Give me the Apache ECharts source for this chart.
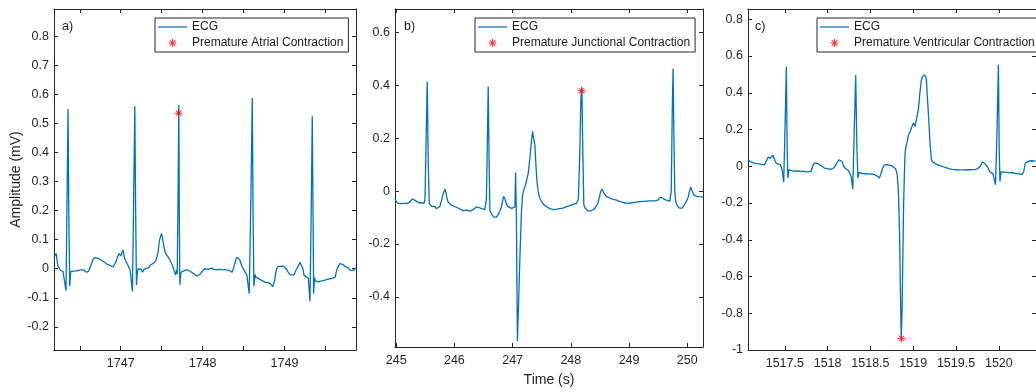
<!DOCTYPE html>
<html>
<head>
<meta charset="utf-8">
<script src="https://cdn.jsdelivr.net/npm/echarts@6/dist/echarts.min.js"></script>
<style>
  html, body { margin: 0; padding: 0; background: #ffffff; }
  #chart { width: 1036px; height: 392px; }
</style>
</head>
<body>
<div id="chart"></div>
<script>
// ECG excerpts (time in s, amplitude in mV) with the annotated premature beats.
const ecgA = [
  [1746.185,0.040],[1746.200,0.035],[1746.212,0.052],[1746.222,0.030],[1746.235,0.008],[1746.250,0.002],
  [1746.265,-0.006],[1746.280,-0.003],[1746.295,-0.010],[1746.310,-0.012],[1746.332,-0.076],[1746.345,0.250],
  [1746.356,0.550],[1746.366,0.200],[1746.377,-0.060],[1746.389,-0.010],[1746.405,-0.014],[1746.420,-0.008],
  [1746.438,-0.013],[1746.455,-0.007],[1746.470,-0.012],[1746.485,-0.006],[1746.499,-0.010],[1746.515,-0.004],
  [1746.530,-0.008],[1746.548,-0.004],[1746.565,-0.009],[1746.581,-0.012],[1746.597,-0.016],[1746.610,-0.008],
  [1746.625,0.005],[1746.640,0.015],[1746.658,0.030],[1746.680,0.038],[1746.703,0.041],[1746.725,0.036],
  [1746.744,0.038],[1746.760,0.030],[1746.775,0.028],[1746.793,0.024],[1746.815,0.022],[1746.830,0.016],
  [1746.848,0.018],[1746.865,0.012],[1746.885,0.010],[1746.906,0.006],[1746.925,0.012],[1746.939,0.022],
  [1746.960,0.040],[1746.980,0.052],[1747.000,0.044],[1747.015,0.055],[1747.029,0.064],[1747.040,0.045],
  [1747.055,0.030],[1747.074,0.020],[1747.095,0.008],[1747.115,-0.005],[1747.143,-0.078],[1747.158,0.250],
  [1747.172,0.560],[1747.182,0.200],[1747.192,-0.056],[1747.200,-0.020],[1747.212,0.000],[1747.233,-0.004],
  [1747.250,-0.002],[1747.266,-0.012],[1747.280,-0.004],[1747.297,-0.002],[1747.315,0.002],[1747.330,0.006],
  [1747.345,0.004],[1747.360,0.012],[1747.376,0.010],[1747.395,0.018],[1747.416,0.020],[1747.430,0.028],
  [1747.444,0.030],[1747.458,0.060],[1747.471,0.095],[1747.485,0.110],[1747.498,0.122],[1747.510,0.105],
  [1747.525,0.080],[1747.540,0.058],[1747.559,0.048],[1747.580,0.040],[1747.600,0.030],[1747.620,0.018],
  [1747.640,0.004],[1747.655,-0.010],[1747.670,-0.022],[1747.680,-0.004],[1747.690,-0.018],[1747.700,0.250],
  [1747.709,0.565],[1747.715,0.200],[1747.722,-0.055],[1747.735,-0.012],[1747.750,-0.015],[1747.765,-0.008],
  [1747.785,-0.012],[1747.800,-0.004],[1747.815,-0.010],[1747.830,-0.006],[1747.848,-0.003],[1747.865,-0.012],
  [1747.881,-0.008],[1747.898,-0.018],[1747.915,-0.012],[1747.930,-0.025],[1747.945,-0.030],[1747.965,-0.020],
  [1747.987,-0.012],[1748.005,-0.006],[1748.025,0.000],[1748.048,0.002],[1748.070,-0.002],[1748.090,0.004],
  [1748.110,0.002],[1748.135,-0.002],[1748.155,0.001],[1748.175,-0.004],[1748.200,-0.002],[1748.220,-0.006],
  [1748.240,-0.003],[1748.260,-0.007],[1748.280,-0.004],[1748.300,-0.008],[1748.325,-0.006],[1748.345,-0.010],
  [1748.360,-0.012],[1748.375,0.000],[1748.395,0.020],[1748.415,0.040],[1748.425,0.046],[1748.438,0.042],
  [1748.455,0.030],[1748.475,0.012],[1748.496,0.000],[1748.515,-0.010],[1748.540,-0.022],[1748.569,-0.086],
  [1748.590,0.250],[1748.606,0.588],[1748.616,0.200],[1748.626,-0.060],[1748.640,-0.020],[1748.651,-0.030],
  [1748.668,-0.026],[1748.685,-0.034],[1748.700,-0.030],[1748.720,-0.040],[1748.740,-0.038],[1748.760,-0.046],
  [1748.782,-0.044],[1748.805,-0.048],[1748.831,-0.052],[1748.855,-0.062],[1748.875,-0.045],[1748.890,-0.020],
  [1748.904,0.000],[1748.920,0.008],[1748.936,0.012],[1748.960,0.008],[1748.985,0.010],[1749.005,0.004],
  [1749.026,-0.002],[1749.045,-0.012],[1749.066,-0.020],[1749.090,-0.016],[1749.115,-0.022],[1749.135,-0.008],
  [1749.150,0.000],[1749.170,0.012],[1749.189,0.022],[1749.200,0.018],[1749.210,0.024],[1749.225,0.000],
  [1749.238,-0.022],[1749.265,-0.028],[1749.290,-0.032],[1749.311,-0.112],[1749.326,0.200],[1749.339,0.525],
  [1749.348,0.200],[1749.356,-0.086],[1749.366,-0.030],[1749.376,-0.042],[1749.395,-0.038],[1749.415,-0.045],
  [1749.435,-0.040],[1749.455,-0.042],[1749.475,-0.036],[1749.494,-0.039],[1749.515,-0.034],[1749.535,-0.036],
  [1749.555,-0.032],[1749.580,-0.033],[1749.600,-0.028],[1749.617,-0.030],[1749.632,-0.012],[1749.645,0.002],
  [1749.660,0.010],[1749.678,0.018],[1749.695,0.012],[1749.714,0.014],[1749.740,0.008],[1749.760,0.010],
  [1749.780,0.002],[1749.800,-0.005],[1749.820,-0.010],[1749.840,-0.006],[1749.855,-0.012],[1749.873,0.004]
];
const pacA = [[1747.706, 0.536]];

const ecgB = [
  [244.980,-0.027],[244.995,-0.038],[245.014,-0.042],[245.035,-0.046],[245.066,-0.044],[245.090,-0.047],
  [245.115,-0.043],[245.134,-0.046],[245.160,-0.044],[245.185,-0.046],[245.203,-0.045],[245.230,-0.042],
  [245.255,-0.038],[245.280,-0.030],[245.306,-0.030],[245.330,-0.036],[245.358,-0.038],[245.390,-0.044],
  [245.426,-0.044],[245.455,-0.045],[245.478,-0.046],[245.495,-0.030],[245.515,0.200],[245.534,0.414],
  [245.551,0.100],[245.569,-0.048],[245.590,-0.050],[245.615,-0.058],[245.637,-0.060],[245.665,-0.058],
  [245.690,-0.066],[245.723,-0.066],[245.750,-0.058],[245.781,-0.034],[245.810,-0.008],[245.838,0.008],
  [245.860,-0.012],[245.880,-0.034],[245.895,-0.042],[245.920,-0.046],[245.941,-0.052],[245.975,-0.054],
  [246.010,-0.059],[246.045,-0.062],[246.078,-0.066],[246.115,-0.070],[246.152,-0.074],[246.185,-0.070],
  [246.216,-0.072],[246.240,-0.075],[246.267,-0.076],[246.295,-0.072],[246.318,-0.070],[246.350,-0.064],
  [246.382,-0.060],[246.405,-0.062],[246.421,-0.062],[246.445,-0.064],[246.468,-0.066],[246.495,-0.068],
  [246.524,-0.070],[246.550,-0.030],[246.567,0.200],[246.581,0.395],[246.597,0.100],[246.610,-0.075],
  [246.644,-0.088],[246.670,-0.098],[246.696,-0.102],[246.725,-0.098],[246.753,-0.088],[246.780,-0.076],
  [246.805,-0.062],[246.825,-0.040],[246.845,-0.020],[246.856,-0.015],[246.870,-0.030],[246.897,-0.050],
  [246.920,-0.058],[246.950,-0.062],[246.983,-0.065],[247.010,-0.063],[247.040,-0.060],[247.051,0.070],
  [247.065,-0.100],[247.082,-0.567],[247.099,-0.450],[247.125,-0.252],[247.151,-0.080],[247.171,-0.015],
  [247.190,0.004],[247.211,0.016],[247.240,0.040],[247.268,0.066],[247.290,0.110],[247.315,0.170],
  [247.343,0.225],[247.362,0.220],[247.383,0.172],[247.400,0.100],[247.417,0.040],[247.439,-0.002],
  [247.465,-0.026],[247.498,-0.040],[247.540,-0.052],[247.583,-0.059],[247.615,-0.063],[247.640,-0.066],
  [247.670,-0.068],[247.697,-0.070],[247.730,-0.067],[247.760,-0.068],[247.790,-0.065],[247.812,-0.066],
  [247.840,-0.063],[247.863,-0.064],[247.895,-0.060],[247.927,-0.059],[247.955,-0.057],[247.983,-0.055],
  [248.010,-0.052],[248.035,-0.050],[248.065,-0.048],[248.098,-0.046],[248.129,-0.030],[248.155,0.150],
  [248.172,0.350],[248.189,0.391],[248.206,0.150],[248.223,-0.052],[248.250,-0.066],[248.275,-0.072],
  [248.300,-0.076],[248.326,-0.077],[248.350,-0.074],[248.378,-0.072],[248.410,-0.066],[248.441,-0.060],
  [248.465,-0.046],[248.489,-0.025],[248.515,0.000],[248.537,0.008],[248.555,-0.002],[248.575,-0.010],
  [248.613,-0.021],[248.650,-0.024],[248.687,-0.028],[248.735,-0.031],[248.784,-0.034],[248.820,-0.038],
  [248.858,-0.040],[248.905,-0.044],[248.956,-0.046],[249.010,-0.045],[249.064,-0.044],[249.120,-0.042],
  [249.184,-0.040],[249.245,-0.039],[249.304,-0.038],[249.360,-0.037],[249.413,-0.037],[249.460,-0.036],
  [249.498,-0.034],[249.520,-0.026],[249.540,-0.021],[249.560,-0.024],[249.579,-0.028],[249.600,-0.030],
  [249.614,-0.033],[249.640,-0.034],[249.665,-0.037],[249.700,-0.038],[249.725,0.000],[249.742,0.300],
  [249.756,0.463],[249.771,0.200],[249.785,0.000],[249.800,-0.035],[249.820,-0.052],[249.842,-0.059],
  [249.865,-0.064],[249.888,-0.065],[249.910,-0.064],[249.928,-0.060],[249.950,-0.052],[249.974,-0.045],
  [249.995,-0.034],[250.013,-0.025],[250.035,-0.004],[250.059,0.016],[250.085,0.000],[250.111,-0.015],
  [250.140,-0.019],[250.162,-0.020],[250.190,-0.022],[250.214,-0.021],[250.240,-0.022],[250.270,-0.022]
];
const pjcB = [[248.184, 0.379]];

const ecgC = [
  [1517.070,0.035],[1517.090,0.028],[1517.110,0.022],[1517.127,0.017],[1517.150,0.016],[1517.170,0.012],
  [1517.184,0.014],[1517.205,0.010],[1517.226,0.010],[1517.245,0.006],[1517.260,0.008],[1517.275,0.020],
  [1517.288,0.032],[1517.305,0.050],[1517.317,0.053],[1517.330,0.044],[1517.347,0.045],[1517.362,0.060],
  [1517.373,0.062],[1517.385,0.030],[1517.400,0.017],[1517.425,0.012],[1517.450,0.008],[1517.468,-0.019],
  [1517.487,-0.086],[1517.502,0.200],[1517.518,0.542],[1517.527,0.100],[1517.536,-0.064],[1517.548,-0.020],
  [1517.563,-0.019],[1517.580,-0.024],[1517.601,-0.022],[1517.625,-0.027],[1517.658,-0.025],[1517.685,-0.029],
  [1517.714,-0.027],[1517.740,-0.031],[1517.771,-0.030],[1517.790,-0.032],[1517.809,-0.026],[1517.828,0.005],
  [1517.847,0.017],[1517.865,0.019],[1517.885,0.015],[1517.900,0.010],[1517.919,0.005],[1517.940,-0.002],
  [1517.961,-0.010],[1517.985,-0.012],[1518.010,-0.014],[1518.035,-0.017],[1518.055,-0.019],[1518.075,-0.008],
  [1518.090,0.000],[1518.110,0.020],[1518.131,0.035],[1518.150,0.030],[1518.169,0.026],[1518.180,0.010],
  [1518.188,-0.001],[1518.210,-0.012],[1518.230,-0.020],[1518.245,-0.025],[1518.260,-0.034],[1518.275,-0.055],
  [1518.294,-0.124],[1518.311,0.200],[1518.328,0.497],[1518.342,0.100],[1518.354,-0.064],[1518.365,-0.035],
  [1518.377,-0.041],[1518.400,-0.038],[1518.430,-0.042],[1518.460,-0.040],[1518.490,-0.043],[1518.520,-0.042],
  [1518.547,-0.046],[1518.575,-0.052],[1518.604,-0.064],[1518.620,-0.045],[1518.635,-0.020],[1518.655,0.002],
  [1518.680,0.010],[1518.705,0.007],[1518.729,0.005],[1518.755,0.002],[1518.775,-0.002],[1518.795,-0.015],
  [1518.813,-0.045],[1518.828,-0.150],[1518.840,-0.360],[1518.851,-0.700],[1518.860,-0.934],[1518.869,-0.800],
  [1518.877,-0.545],[1518.888,-0.200],[1518.900,0.017],[1518.908,0.090],[1518.927,0.130],[1518.945,0.171],
  [1518.964,0.189],[1518.985,0.215],[1519.002,0.235],[1519.021,0.217],[1519.040,0.260],[1519.059,0.307],
  [1519.078,0.400],[1519.095,0.470],[1519.110,0.490],[1519.135,0.497],[1519.152,0.480],[1519.172,0.325],
  [1519.197,0.120],[1519.212,0.040],[1519.222,0.026],[1519.248,0.017],[1519.270,0.012],[1519.286,0.008],
  [1519.310,0.004],[1519.339,0.000],[1519.370,-0.006],[1519.400,-0.010],[1519.425,-0.014],[1519.453,-0.017],
  [1519.485,-0.018],[1519.513,-0.019],[1519.550,-0.020],[1519.589,-0.020],[1519.630,-0.019],[1519.666,-0.019],
  [1519.690,-0.018],[1519.715,-0.018],[1519.740,-0.016],[1519.760,-0.015],[1519.780,-0.002],[1519.794,0.010],
  [1519.805,0.024],[1519.817,0.026],[1519.835,0.015],[1519.854,0.015],[1519.870,-0.005],[1519.893,-0.028],
  [1519.930,-0.040],[1519.961,-0.100],[1519.979,0.200],[1519.995,0.552],[1520.004,0.100],[1520.013,-0.083],
  [1520.025,-0.030],[1520.044,-0.028],[1520.070,-0.032],[1520.101,-0.033],[1520.130,-0.036],[1520.158,-0.035],
  [1520.185,-0.038],[1520.214,-0.040],[1520.245,-0.042],[1520.271,-0.045],[1520.290,-0.030],[1520.309,0.017],
  [1520.339,0.026],[1520.380,0.030],[1520.430,0.028]
];
const pvcC = [[1518.862, -0.937]];

// Axis limits and tick positions
const xRangeA = [1746.185, 1749.873];
const yRangeA = [-0.28, 0.895];
const xRangeB = [244.98, 250.27];
const yRangeB = [-0.589, 0.688];
const xRangeC = [1517.07, 1520.434];
const yRangeC = [-1, 0.856];

const xTicksA = [1746.5, 1747, 1747.5, 1748, 1748.5, 1749, 1749.5];
const xLabelsA = [1747, 1748, 1749];
const yTicksA = [-0.2, -0.1, 0, 0.1, 0.2, 0.3, 0.4, 0.5, 0.6, 0.7, 0.8];
const xTicksB = [245, 246, 247, 248, 249, 250];
const yTicksB = [-0.4, -0.2, 0, 0.2, 0.4, 0.6];
const xTicksC = [1517.5, 1518, 1518.5, 1519, 1519.5, 1520];
const yTicksC = [-1, -0.8, -0.6, -0.4, -0.2, 0, 0.2, 0.4, 0.6, 0.8];

const markerNames = ['Premature Atrial Contraction', 'Premature Junctional Contraction', 'Premature Ventricular Contraction'];
const panelTags = ['a)', 'b)', 'c)'];

// ---- styling ----
const FONT = '"Liberation Sans", Arial, Helvetica, sans-serif';
const AXIS = '#262626';
const TRACE = '#0072BD';
const STAR = 'path://M-0.13,-1L0.13,-1L0.13,1L-0.13,1Z M-1,-0.13L1,-0.13L1,0.13L-1,0.13Z ' +
  'M-0.615,-0.785L0.785,0.615L0.615,0.785L-0.785,-0.615Z M-0.785,0.615L0.615,-0.785L0.785,-0.615L-0.615,0.785Z';
const LINE_ICON = 'path://M0,0L29,0L29,1.2L0,1.2Z';

const grids = [
  { left: 54, top: 9, width: 302, height: 341 },
  { left: 395, top: 9, width: 308, height: 341 },
  { left: 748, top: 9, width: 296, height: 341 }
];

const fmt = v => String(Math.round(v * 10) / 10);

function xAxes(i, range, ticks, labels, name) {
  const bottom = {
    type: 'value', gridIndex: i, position: 'bottom', min: range[0], max: range[1],
    axisLine: { show: true, onZero: false, lineStyle: { color: AXIS, width: 1 } },
    axisTick: { show: true, inside: true, length: 4, customValues: ticks, lineStyle: { color: AXIS } },
    axisLabel: { show: true, customValues: labels, formatter: fmt, color: AXIS, fontFamily: FONT, fontSize: 12.5, margin: 7 },
    splitLine: { show: false }
  };
  if (name) {
    Object.assign(bottom, { name: name, nameLocation: 'middle', nameGap: 26,
      nameTextStyle: { color: AXIS, fontFamily: FONT, fontSize: 14 } });
  }
  const top = {
    type: 'value', gridIndex: i, position: 'top', min: range[0], max: range[1],
    axisLine: { show: true, onZero: false, lineStyle: { color: AXIS, width: 1 } },
    axisTick: { show: true, inside: true, length: 4, customValues: ticks, lineStyle: { color: AXIS } },
    axisLabel: { show: false }, splitLine: { show: false }
  };
  return [bottom, top];
}

function yAxes(i, range, ticks, name) {
  const left = {
    type: 'value', gridIndex: i, position: 'left', min: range[0], max: range[1],
    axisLine: { show: true, onZero: false, lineStyle: { color: AXIS, width: 1 } },
    axisTick: { show: true, inside: true, length: 4, customValues: ticks, lineStyle: { color: AXIS } },
    axisLabel: { show: true, customValues: ticks, formatter: fmt, color: AXIS, fontFamily: FONT, fontSize: 12.5, margin: 5 },
    splitLine: { show: false }
  };
  if (name) {
    Object.assign(left, { name: name, nameLocation: 'middle', nameGap: 30, nameRotate: 90,
      nameTextStyle: { color: AXIS, fontFamily: FONT, fontSize: 14 } });
  }
  const right = {
    type: 'value', gridIndex: i, position: 'right', min: range[0], max: range[1],
    axisLine: { show: true, onZero: false, lineStyle: { color: AXIS, width: 1 } },
    axisTick: { show: true, inside: true, length: 4, customValues: ticks, lineStyle: { color: AXIS } },
    axisLabel: { show: false }, splitLine: { show: false }
  };
  return [left, right];
}

const xAxis = [
  ...xAxes(0, xRangeA, xTicksA, xLabelsA),
  ...xAxes(1, xRangeB, xTicksB, xTicksB, 'Time (s)'),
  ...xAxes(2, xRangeC, xTicksC, xTicksC)
];
const yAxis = [
  ...yAxes(0, yRangeA, yTicksA, 'Amplitude (mV)'),
  ...yAxes(1, yRangeB, yTicksB),
  ...yAxes(2, yRangeC, yTicksC)
];

const traces = [ecgA, ecgB, ecgC];
const markers = [pacA, pjcB, pvcC];

const series = [];
traces.forEach((d, i) => {
  series.push({
    name: 'ECG', type: 'line', data: d, xAxisIndex: 2 * i, yAxisIndex: 2 * i,
    symbol: 'none', showSymbol: false, clip: true,
    lineStyle: { color: TRACE, width: 1.3 }, itemStyle: { color: TRACE }, z: 2
  });
  series.push({
    name: markerNames[i], type: 'scatter', data: markers[i], xAxisIndex: 2 * i, yAxisIndex: 2 * i,
    symbol: STAR, symbolSize: 8, symbolKeepAspect: true, clip: false,
    itemStyle: { color: '#ff0000' }, z: 3
  });
});

const legendLefts = [155, 475, 817];
const legend = markerNames.map((m, i) => ({
  data: [{ name: 'ECG', icon: LINE_ICON }, { name: m }],
  left: legendLefts[i], top: 18, orient: 'vertical',
  itemWidth: 29, itemHeight: 8, itemGap: 4, padding: [3, 5, 3, 3],
  symbolKeepAspect: true,
  backgroundColor: '#ffffff', borderColor: AXIS, borderWidth: 1, borderRadius: 0,
  selectedMode: false,
  textStyle: { color: '#1a1a1a', fontFamily: FONT, fontSize: 12 }
}));

const tagLefts = [62, 404, 755];
const graphic = panelTags.map((t, i) => ({
  type: 'text', left: tagLefts[i], top: 20, z: 10,
  style: { text: t, fill: '#1a1a1a', font: '12.5px ' + FONT }
}));

const chart = echarts.init(document.getElementById('chart'), null, { renderer: 'canvas' });
chart.setOption({
  animation: false,
  backgroundColor: '#ffffff',
  grid: grids,
  xAxis: xAxis,
  yAxis: yAxis,
  legend: legend,
  graphic: graphic,
  series: series
});
</script>
</body>
</html>
